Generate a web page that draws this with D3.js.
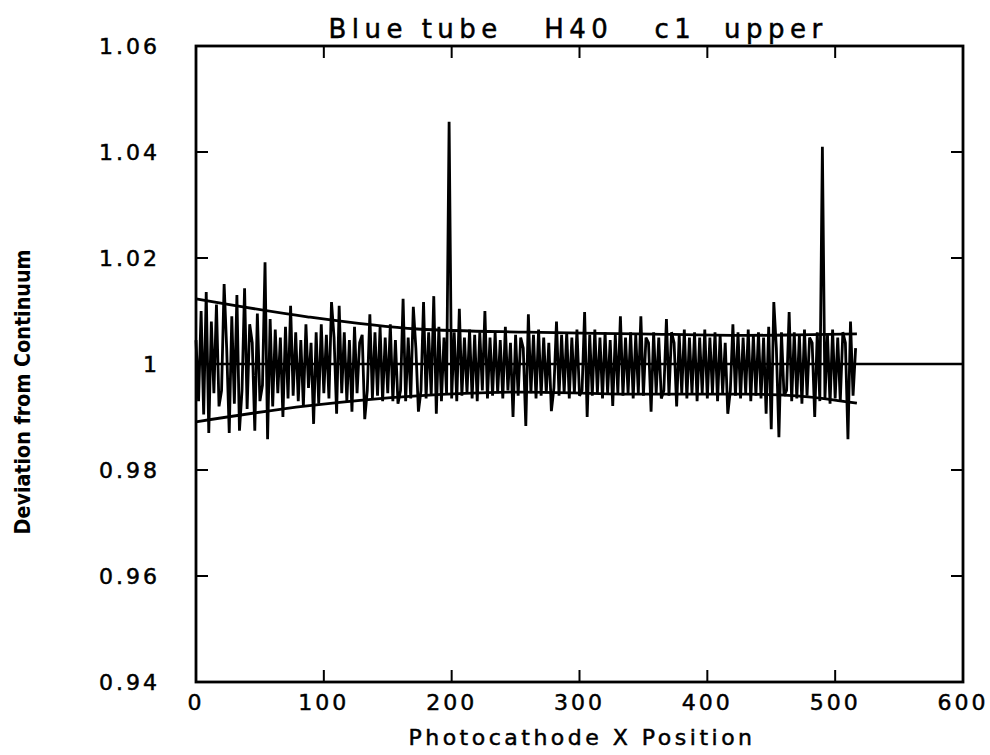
<!DOCTYPE html>
<html lang="en">
  <head>
    <meta charset="UTF-8" />
    <title>Blue tube H40 c1 upper</title>
    <script src="https://cdn.jsdelivr.net/npm/d3@7"></script>
    <style>
      body { margin: 0; background: #fff; }
      text { fill: #000; }
      .lbl { stroke: #000; stroke-width: 0.5px; }
    </style>
  </head>
  <body>
    <svg id="svg"></svg>
  </body>
  <script>
    // photocathode positions 0..516, every 2
    const deviation = [
      1.0045, 0.9930, 1.0100, 0.9905, 1.0136, 0.9870, 1.0080, 0.9945, 1.0112, 0.9920,
      0.9950, 1.0151, 1.0030, 0.9870, 1.0090, 0.9925, 1.0130, 0.9874, 0.9950, 1.0143,
      0.9915, 1.0075, 1.0040, 0.9874, 1.0095, 0.9930, 0.9960, 1.0192, 0.9858, 1.0085,
      0.9920, 1.0065, 0.9945, 1.0050, 0.9900, 1.0070, 0.9935, 1.0110, 0.9940, 1.0060,
      0.9930, 1.0045, 0.9920, 1.0075, 0.9955, 1.0040, 0.9887, 1.0060, 0.9925, 1.0075,
      0.9945, 1.0055, 0.9935, 1.0117, 1.0050, 0.9906, 1.0110, 0.9945, 1.0060, 0.9930,
      1.0045, 0.9910, 1.0070, 0.9945, 1.0040, 1.0055, 0.9896, 0.9950, 1.0094, 0.9935,
      1.0060, 0.9940, 1.0070, 0.9930, 1.0050, 0.9945, 1.0075, 0.9930, 1.0045, 0.9925,
      0.9950, 1.0123, 0.9930, 1.0050, 0.9935, 1.0108, 1.0030, 0.9910, 0.9950, 1.0117,
      0.9935, 1.0060, 0.9940, 1.0128, 0.9906, 1.0070, 0.9930, 1.0050, 0.9945, 1.0457,
      0.9935, 1.0060, 0.9930, 1.0104, 0.9940, 1.0050, 0.9945, 1.0065, 0.9935, 1.0055,
      0.9930, 1.0060, 0.9950, 1.0100, 0.9935, 1.0050, 0.9940, 1.0060, 0.9945, 1.0045,
      0.9935, 1.0070, 0.9950, 1.0040, 0.9900, 1.0055, 0.9940, 1.0050, 1.0030, 0.9883,
      1.0094, 0.9945, 1.0055, 0.9935, 1.0065, 0.9940, 1.0050, 0.9945, 1.0040, 0.9911,
      0.9955, 1.0080, 0.9940, 1.0055, 0.9945, 1.0060, 0.9935, 1.0050, 0.9945, 1.0065,
      0.9940, 0.9950, 1.0098, 0.9900, 1.0055, 0.9940, 1.0065, 0.9945, 1.0050, 0.9935,
      1.0060, 0.9945, 1.0045, 0.9921, 1.0055, 0.9945, 1.0090, 0.9940, 1.0050, 0.9945,
      1.0060, 0.9935, 1.0055, 0.9945, 1.0090, 0.9940, 1.0050, 1.0040, 0.9910, 1.0060,
      0.9945, 1.0050, 0.9935, 0.9950, 1.0085, 0.9940, 1.0060, 1.0040, 0.9920, 1.0055,
      0.9945, 1.0065, 0.9935, 1.0050, 0.9945, 1.0060, 0.9930, 1.0050, 0.9945, 1.0065,
      0.9935, 1.0050, 0.9945, 1.0060, 0.9930, 1.0055, 0.9945, 1.0040, 0.9906, 0.9950,
      1.0075, 0.9940, 1.0060, 0.9935, 1.0050, 0.9945, 1.0065, 0.9930, 1.0055, 0.9940,
      1.0060, 0.9935, 1.0050, 0.9906, 1.0070, 0.9877, 1.0117, 1.0030, 0.9862, 1.0060,
      0.9940, 0.9950, 1.0098, 0.9930, 1.0060, 0.9935, 1.0055, 0.9925, 1.0065, 0.9940,
      1.0050, 1.0040, 0.9900, 1.0060, 0.9930, 1.0410, 0.9935, 1.0055, 0.9925, 1.0065,
      0.9935, 1.0050, 0.9930, 1.0060, 1.0040, 0.9858, 1.0080, 0.9940, 1.0030
    ];
    const positions = deviation.map((d, i) => i * 2);

    // fitted envelope
    const envX = [0, 87, 173, 259, 345, 430, 470, 517];
    const envUpper = [1.0123, 1.0089, 1.0066, 1.006, 1.0057, 1.0054, 1.0055, 1.0057];
    const envLower = [0.9891, 0.9921, 0.994, 0.9947, 0.9943, 0.9943, 0.994, 0.9926];

    const xTicks = [0, 100, 200, 300, 400, 500, 600];
    const yTicks = [0.94, 0.96, 0.98, 1, 1.02, 1.04, 1.06];
    const yTickLabels = ["0.94", "0.96", "0.98", "1", "1.02", "1.04", "1.06"];

    const W = 990, H = 755;
    const svg = d3.select("#svg").attr("width", W).attr("height", H);

    const x = d3.scaleLinear().domain([0, 600]).range([196, 963]);
    const y = d3.scaleLinear().domain([0.94, 1.06]).range([682, 46]);

    const tickFont = "'DejaVu Sans', sans-serif";

    // mean line at 1
    svg.append("line")
      .attr("x1", x(0)).attr("x2", x(600))
      .attr("y1", y(1)).attr("y2", y(1))
      .attr("stroke", "#000").attr("stroke-width", 2.4);

    // data
    const line = d3.line().x((d, i) => x(positions[i])).y(d => y(d));
    svg.append("path")
      .attr("d", line(deviation))
      .attr("fill", "none")
      .attr("stroke", "#000")
      .attr("stroke-width", 2.8)
      .attr("stroke-linejoin", "bevel");

    // envelope
    const env = d3.line().x((d, i) => x(envX[i])).y(d => y(d)).curve(d3.curveMonotoneX);
    [envUpper, envLower].forEach(arr => {
      svg.append("path")
        .attr("d", env(arr))
        .attr("fill", "none")
        .attr("stroke", "#000")
        .attr("stroke-width", 2.8);
    });

    // frame
    svg.append("rect")
      .attr("x", x(0)).attr("y", y(1.06))
      .attr("width", x(600) - x(0)).attr("height", y(0.94) - y(1.06))
      .attr("fill", "none").attr("stroke", "#000").attr("stroke-width", 2.8);

    // inward ticks on all four sides
    const tk = 12;
    xTicks.slice(1, -1).forEach(t => {
      svg.append("line").attr("x1", x(t)).attr("x2", x(t))
        .attr("y1", y(0.94)).attr("y2", y(0.94) - tk)
        .attr("stroke", "#000").attr("stroke-width", 2);
      svg.append("line").attr("x1", x(t)).attr("x2", x(t))
        .attr("y1", y(1.06)).attr("y2", y(1.06) + tk)
        .attr("stroke", "#000").attr("stroke-width", 2);
    });
    yTicks.slice(1, -1).forEach(t => {
      svg.append("line").attr("x1", x(0)).attr("x2", x(0) + tk)
        .attr("y1", y(t)).attr("y2", y(t))
        .attr("stroke", "#000").attr("stroke-width", 2);
      svg.append("line").attr("x1", x(600)).attr("x2", x(600) - tk)
        .attr("y1", y(t)).attr("y2", y(t))
        .attr("stroke", "#000").attr("stroke-width", 2);
    });

    // tick labels
    svg.append("g").selectAll("text").data(xTicks).join("text")
      .attr("class", "lbl")
      .attr("x", d => x(d)).attr("y", 710)
      .attr("text-anchor", "middle")
      .style("font-family", tickFont).style("font-size", "22px")
      .style("letter-spacing", "3px")
      .text(d => d);

    svg.append("g").selectAll("text").data(yTicks).join("text")
      .attr("class", "lbl")
      .attr("x", 160).attr("y", d => y(d) + 8)
      .attr("text-anchor", "end")
      .style("font-family", tickFont).style("font-size", "22px")
      .style("letter-spacing", "3px")
      .text((d, i) => yTickLabels[i]);

    // title
    svg.append("text")
      .attr("class", "lbl")
      .attr("x", 578).attr("y", 38)
      .attr("text-anchor", "middle")
      .attr("xml:space", "preserve")
      .style("font-family", tickFont).style("font-size", "26px")
      .style("letter-spacing", "5.5px")
      .style("white-space", "pre")
      .text("Blue tube   H40   c1  upper");

    // axis titles
    svg.append("text")
      .attr("class", "lbl")
      .attr("x", 582).attr("y", 745)
      .attr("text-anchor", "middle")
      .style("font-family", tickFont).style("font-size", "22px")
      .style("letter-spacing", "3.5px")
      .text("Photocathode X Position");

    svg.append("text")
      .attr("transform", "translate(30,392) rotate(-90)")
      .attr("text-anchor", "middle")
      .attr("textLength", 285)
      .attr("lengthAdjust", "spacingAndGlyphs")
      .style("font-family", "'Liberation Sans Narrow', 'DejaVu Sans Condensed', sans-serif")
      .style("font-size", "22px")
      .style("font-weight", "bold")
      .text("Deviation from Continuum");
  </script>
</html>
